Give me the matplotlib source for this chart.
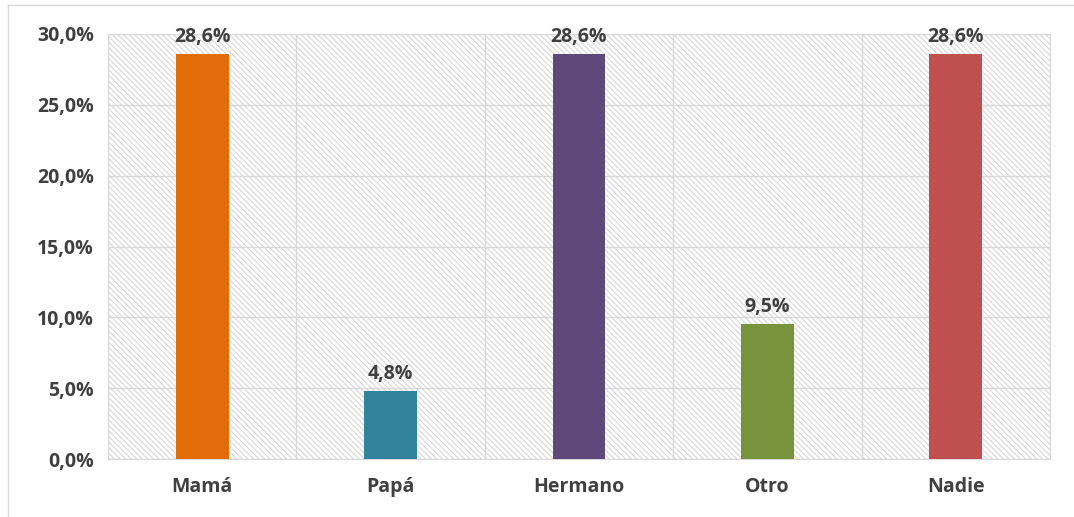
import matplotlib.pyplot as plt
from matplotlib.patches import Rectangle
from matplotlib.lines import Line2D
from matplotlib.ticker import FuncFormatter, MultipleLocator

categories = ["Mamá", "Papá", "Hermano", "Otro", "Nadie"]
values = [28.6, 4.8, 28.6, 9.5, 28.6]
colors = ["#E36C0A", "#31849B", "#5F497A", "#77933C", "#C0504D"]

plt.rcParams['font.family'] = ['Open Sans', 'DejaVu Sans']
plt.rcParams['hatch.linewidth'] = 0.8
txt = "#404040"

fig = plt.figure(figsize=(10.74, 5.17), dpi=100)
ax = fig.add_axes([108/1074, 1 - 459/517, 942/1074, 425/517])

# hatched background
ax.add_patch(Rectangle((0, 0), 1, 1, transform=ax.transAxes, facecolor="white",
                       edgecolor="#d8d8d8", hatch="\\\\\\\\\\\\", lw=0, zorder=0))

x = list(range(len(categories)))
ax.bar(x, values, width=0.28, color=colors, zorder=3)
for xi, v in zip(x, values):
    ax.text(xi, v + 0.5, f"{v:.1f}%".replace(".", ","), ha="center", va="bottom",
            fontsize=14, fontweight="bold", color=txt, zorder=4)

ax.set_xlim(-0.5, len(categories) - 0.5)
ax.set_ylim(0, 30)
ax.yaxis.set_major_locator(MultipleLocator(5))
ax.yaxis.set_major_formatter(FuncFormatter(lambda v, p: f"{v:.1f}%".replace(".", ",")))
ax.set_xticks(x)
ax.set_xticklabels(categories)
ax.set_xticks([i + 0.5 for i in range(-1, len(categories))], minor=True)
ax.grid(True, which="major", axis="y", color="#d9d9d9", lw=1, zorder=1)
ax.grid(True, which="minor", axis="x", color="#d9d9d9", lw=1, zorder=1)
ax.tick_params(which="both", length=0)
ax.tick_params(axis="y", pad=10)
ax.tick_params(axis="x", pad=13)
for lab in ax.get_xticklabels() + ax.get_yticklabels():
    lab.set_fontsize(14)
    lab.set_fontweight("bold")
    lab.set_color(txt)
for s in ax.spines.values():
    s.set_color("#d9d9d9")

# outer chart frame
fig.add_artist(Line2D([8/1074, 1], [1 - 5/517, 1 - 5/517], color="#d9d9d9", lw=1))
fig.add_artist(Line2D([8/1074, 8/1074], [0, 1 - 5/517], color="#d9d9d9", lw=1))

fig.savefig("out.png", dpi=100)
